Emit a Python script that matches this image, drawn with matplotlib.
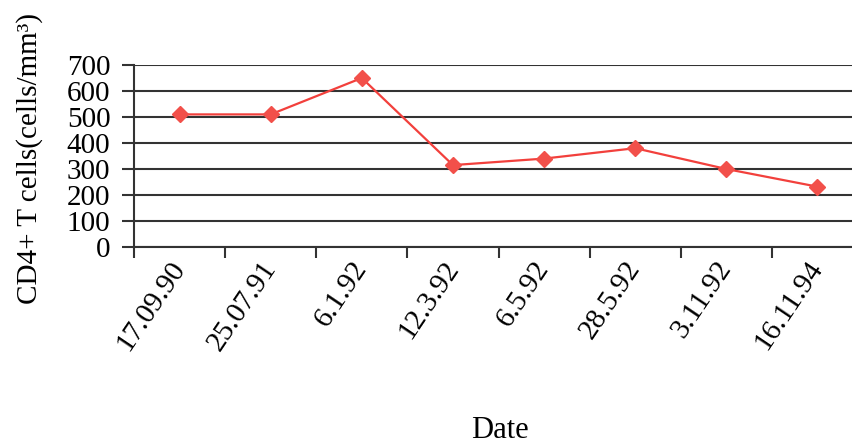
import matplotlib
matplotlib.use("Agg")
import matplotlib.pyplot as plt
import numpy as np

dates = ["17.09.90", "25.07.91", "6.1.92", "12.3.92", "6.5.92", "28.5.92", "3.11.92", "16.11.94"]
cd4_counts = [510, 510, 650, 315, 340, 380, 300, 232]
y_ticks = [0, 100, 200, 300, 400, 500, 600, 700]

plt.rcParams["font.family"] = ["Liberation Serif", "DejaVu Serif"]

W, H = 852, 444
fig = plt.figure(figsize=(W / 100, H / 100), dpi=100)
ax = fig.add_axes([134 / W, 1 - 247 / H, (863 - 134) / W, (247 - 65) / H])

x = np.arange(len(dates))
ax.plot(x, cd4_counts, color="#f2403c", lw=1.6, marker="D", ms=8,
        markerfacecolor="#f2504a", markeredgecolor="#f2504a", zorder=3)

ax.set_xlim(-0.5, len(dates) - 0.5)
ax.set_ylim(0, 700)
ax.set_yticks(y_ticks)
ax.set_yticklabels([str(v) for v in y_ticks], fontsize=21)
ax.yaxis.grid(True, color="#333333", lw=1.5)
ax.set_axisbelow(True)

ax.set_xticks(x)
ax.set_xticklabels(dates, rotation=56, ha="right", va="center",
                   rotation_mode="anchor", fontsize=21)
ax.set_xticks(np.arange(-0.5, len(dates)), minor=True)
ax.tick_params(axis="x", which="major", length=0, pad=12)
ax.tick_params(axis="x", which="minor", length=8, width=1.5, color="#333333", direction="out")
ax.tick_params(axis="y", length=9, width=1.5, color="#333333", direction="out", pad=8)

for side in ("top", "right"):
    ax.spines[side].set_visible(False)
ax.spines["left"].set_color("#333333")
ax.spines["left"].set_linewidth(1.5)
ax.spines["bottom"].set_color("#333333")
ax.spines["bottom"].set_linewidth(1.5)

fig.text(30 / W, 1 - 158 / H, "CD4+ T cells(cells/mm³)", rotation=90,
         ha="center", va="center", fontsize=21)
fig.text(500 / W, 1 - 430 / H, "Date", ha="center", va="center", fontsize=22)

fig.savefig("out.png", dpi=100)
